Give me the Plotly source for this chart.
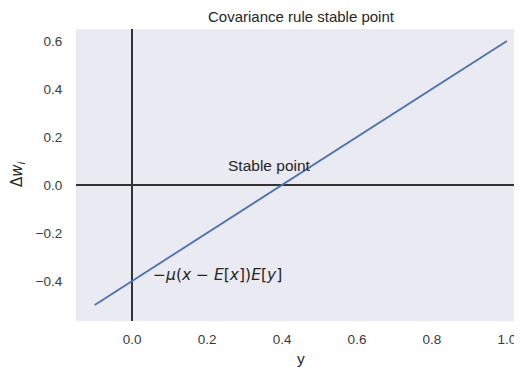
import plotly.graph_objects as go

# data
x_vals = [-0.1, 1.0]
y_vals = [-0.5, 0.6]
x_ticks = [0.0, 0.2, 0.4, 0.6, 0.8, 1.0]
x_ticklabels = ["0.0", "0.2", "0.4", "0.6", "0.8", "1.0"]
y_ticks = [-0.4, -0.2, 0.0, 0.2, 0.4, 0.6]
y_ticklabels = ["\u22120.4", "\u22120.2", "0.0", "0.2", "0.4", "0.6"]
title_text = "Covariance rule stable point"
x_title = "y"
y_title = "\u0394<i>w</i><sub><i>i</i></sub>"
stable_label = "Stable point"
stable_pos = (0.25, 0.05)
formula_label = "\u2212<i>\u03bc</i>(<i>x</i> \u2212 <i>E</i>[<i>x</i>])<i>E</i>[<i>y</i>]"
formula_pos = (0.05, -0.4)

TEXT = "#262626"
TICK = "#3a3a3a"
FONT = "Liberation Sans, Arial, sans-serif"

# page body has an 8px margin; figure is sized/offset to compensate
OFF = 8
W, H = 522 - OFF, 367 - OFF
PL, PR, PT, PB = 76, 520, 29, 321  # plot box in window pixels
PW, PH = PR - PL, PB - PT


def px(ax):
    return (ax - PL) / PW


def py(ay):
    return (PB - ay) / PH


fig = go.Figure()
fig.add_trace(go.Scatter(x=x_vals, y=y_vals, mode="lines",
                         line=dict(color="#4C72B0", width=1.8),
                         hoverinfo="skip", showlegend=False))

fig.update_layout(
    width=W, height=H,
    margin=dict(l=PL - OFF, r=W - (PR - OFF), t=PT - OFF, b=H - (PB - OFF), pad=0),
    paper_bgcolor="white", plot_bgcolor="#EAEAF2",
    font=dict(family=FONT, color=TEXT, size=14),
    showlegend=False,
    xaxis=dict(range=[-0.15, 1.035], tickvals=x_ticks, ticktext=x_ticklabels,
               showgrid=False, zeroline=True, zerolinecolor="#333333", zerolinewidth=2,
               ticks="outside", ticklen=6, tickcolor="rgba(0,0,0,0)",
               tickfont=dict(size=13.5, color=TICK), showline=False, automargin=False),
    yaxis=dict(range=[-0.567, 0.65], tickvals=y_ticks, ticktext=y_ticklabels,
               showgrid=False, zeroline=True, zerolinecolor="#333333", zerolinewidth=2,
               ticks="outside", ticklen=10, tickcolor="rgba(0,0,0,0)",
               tickfont=dict(size=13.5, color=TICK), showline=False, automargin=False),
    annotations=[
        dict(text=title_text, x=px(301), y=py(16.5), xref="paper", yref="paper", showarrow=False,
             font=dict(size=15, color=TEXT), xanchor="center", yanchor="middle"),
        dict(text=stable_label, x=stable_pos[0], y=stable_pos[1], xref="x", yref="y",
             showarrow=False, xanchor="left", yanchor="bottom", yshift=-3,
             font=dict(size=15.5, color=TEXT, family=FONT)),
        dict(text=formula_label, x=formula_pos[0], y=formula_pos[1], xref="x", yref="y",
             showarrow=False, xanchor="left", yanchor="bottom", yshift=-5,
             font=dict(size=15.5, color=TEXT, family="DejaVu Sans")),
        dict(text=x_title, x=px(301), y=py(358), xref="paper", yref="paper", showarrow=False,
             xanchor="center", yanchor="middle", font=dict(size=15.5, color=TEXT)),
        dict(text=y_title, x=px(17), y=py(174), xref="paper", yref="paper",
             showarrow=False, textangle=-90, xanchor="center", yanchor="middle",
             font=dict(size=15, color=TEXT, family="DejaVu Sans")),
    ],
)

fig.write_html("out.html")
